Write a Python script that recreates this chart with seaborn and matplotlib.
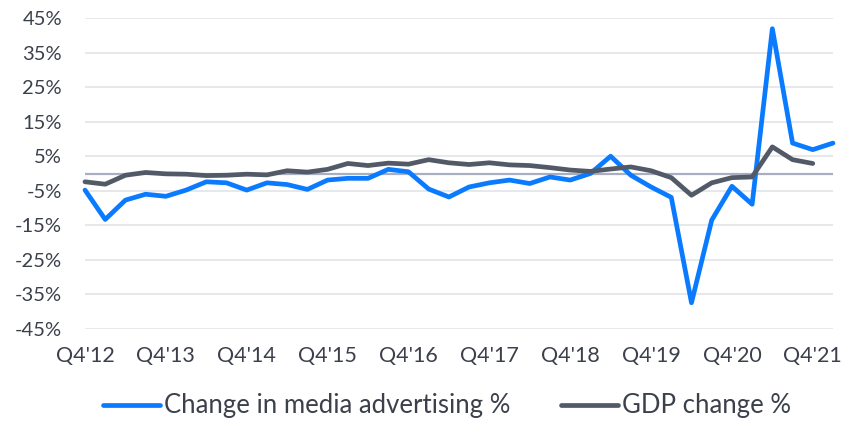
import matplotlib
matplotlib.use('Agg')
import matplotlib.pyplot as plt
import seaborn as sns
import numpy as np

# 季度标签（每4个季度一个刻度）
quarters = ["Q4'12", "Q1'13", "Q2'13", "Q3'13", "Q4'13", "Q1'14", "Q2'14", "Q3'14",
            "Q4'14", "Q1'15", "Q2'15", "Q3'15", "Q4'15", "Q1'16", "Q2'16", "Q3'16",
            "Q4'16", "Q1'17", "Q2'17", "Q3'17", "Q4'17", "Q1'18", "Q2'18", "Q3'18",
            "Q4'18", "Q1'19", "Q2'19", "Q3'19", "Q4'19", "Q1'20", "Q2'20", "Q3'20",
            "Q4'20", "Q1'21", "Q2'21", "Q3'21", "Q4'21", "Q1'22"]

media_ad = [-4.8, -13.3, -7.7, -6.0, -6.6, -4.8, -2.4, -2.7, -4.8, -2.7,
            -3.2, -4.6, -1.9, -1.4, -1.4, 1.2, 0.5, -4.5, -6.8, -3.9,
            -2.7, -1.9, -2.9, -1.0, -1.9, 0.0, 5.0, -0.5, -3.9, -6.9,
            -37.4, -13.5, -3.7, -8.9, 41.9, 8.8, 6.9, 8.8]

gdp = [-2.4, -3.1, -0.5, 0.3, -0.1, -0.2, -0.6, -0.5, -0.2, -0.4,
       0.8, 0.4, 1.2, 2.9, 2.3, 3.0, 2.7, 4.0, 3.1, 2.6,
       3.1, 2.5, 2.3, 1.7, 1.0, 0.6, 1.3, 1.9, 0.8, -1.2,
       -6.3, -2.7, -1.2, -1.0, 7.7, 4.0, 2.9]

yticks = [45, 35, 25, 15, 5, -5, -15, -25, -35, -45]

BLUE = '#0A7BFF'
GRAY = '#535A67'
TEXT = '#3B404B'

sns.set_theme(style='white')
plt.rcParams['font.family'] = ['Lato', 'DejaVu Sans']

fig = plt.figure(figsize=(8.43, 4.22), dpi=100)
ax = fig.add_axes([85 / 843, 1 - 329 / 422, 748 / 843, 311 / 422])

# 网格线
for v in yticks:
    ax.axhline(v, color='#E1E4E9', linewidth=1.2, zorder=0)
ax.axhline(0, color='#A9AEC0', linewidth=1.6, zorder=1)

x_ad = np.arange(len(media_ad))
x_gdp = np.arange(len(gdp))
sns.lineplot(x=x_ad, y=media_ad, ax=ax, color=BLUE, linewidth=3.4,
             label='Change in media advertising %', clip_on=False, zorder=3)
sns.lineplot(x=x_gdp, y=gdp, ax=ax, color=GRAY, linewidth=3.4,
             label='GDP change %', clip_on=False, zorder=4)

ax.set_xlim(0, len(media_ad) - 1)
ax.set_ylim(-45, 45)
ax.set_yticks(yticks)
ax.set_yticklabels([f'{v}%' for v in yticks])
tick_pos = list(range(0, len(quarters), 4))
ax.set_xticks(tick_pos)
ax.set_xticklabels([quarters[i] for i in tick_pos])
ax.tick_params(axis='both', length=0, labelcolor=TEXT)
ax.tick_params(axis='y', pad=16.5, labelsize=14.5)
ax.tick_params(axis='x', pad=12, labelsize=15.5)
for s in ax.spines.values():
    s.set_visible(False)

handles, labels = ax.get_legend_handles_labels()
ax.get_legend().remove()
fig.legend(handles, labels, loc='center', bbox_to_anchor=(447 / 843, 1 - 406 / 422),
           ncol=2, frameon=False, fontsize=18.5, handlelength=2.2,
           handletextpad=0.16, columnspacing=2.0, labelcolor=TEXT)

plt.savefig('out.png', dpi=100)
